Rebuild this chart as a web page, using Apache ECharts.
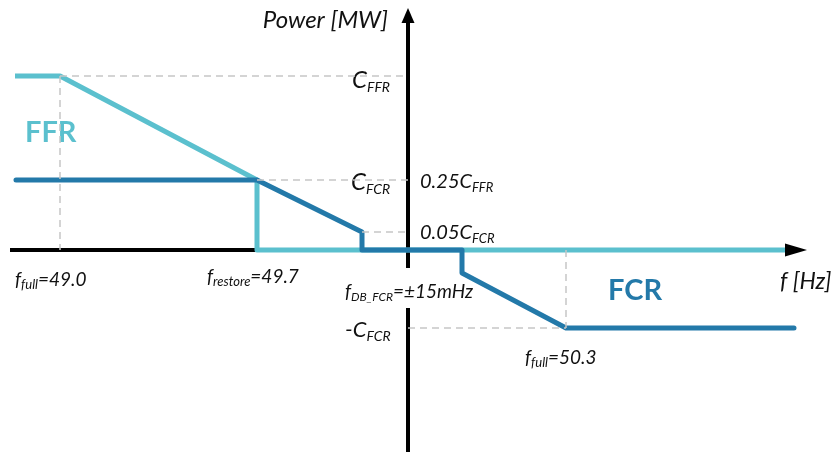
<!DOCTYPE html>
<html>
<head>
<meta charset="utf-8">
<script src="https://cdn.jsdelivr.net/npm/echarts@6/dist/echarts.min.js"></script>
<style>
  html, body { margin: 0; padding: 0; background: #fff; }
  #chart { width: 836px; height: 452px; }
</style>
</head>
<body>
<div id="chart"></div>
<script>
// Schematic frequency position (0 = nominal 50 Hz, where the power axis sits)
// and schematic power level for each break point of the two characteristics.
const ffrFreq  = [-39.3, -34.8, -15.1, -15.1, 38.0];
const ffrPower = [17.4, 17.4, 7.0, 0, 0];
const fcrFreq  = [-39.2, -15.1, -4.6, -4.6, 5.4, 5.4, 15.8, 38.6];
const fcrPower = [7.0, 7.0, 1.8, 0, 0, -2.3, -7.8, -7.8];

// Named power levels and frequencies
const cFFR = 17.4, cFCR = 7.0, dbStep = 1.8, cFCRneg = -7.8;
const fFullLow = -34.8, fRestore = -15.1, fDbLow = -4.6, fFullHigh = 15.8;

// Axis extents (schematic units); the power axis is broken around the dead-band label
const xMin = -40.8, xMax = 42.8, yMin = -20.2, yMax = 25;
const axisBreak = [-5.8, -1.8];

const FFR_COLOR = '#5BC0CE';
const FCR_COLOR = '#2379A9';
const GUIDE = '#C6C6C6';
const FONT = 'Lato';

const pairs = (xs, ys) => xs.map((x, i) => [x, ys[i]]);

// rich-text styles: main italic text + lowered subscript
function richSet(main, sub) {
  return {
    m: { fontFamily: FONT, fontStyle: 'italic', fontSize: main, lineHeight: main + 4, color: '#111', opacity: 1 },
    s: { fontFamily: FONT, fontStyle: 'italic', fontSize: sub, lineHeight: sub, verticalAlign: 'bottom', color: '#111', opacity: 1 }
  };
}

// text labels anchored to data positions
const labels = [
  { at: [-2.0, 23.0], text: '{m|Power [MW]}', align: 'right', rich: richSet(24, 14) },
  { at: [-7.0, cFFR - 0.4], text: '{m|C}{s|FFR}', align: 'left', rich: richSet(24, 14), bg: true, pad: [2, 14, 2, 14] },
  { at: [-7.3, cFCR - 0.2], text: '{m|C}{s|FCR}', align: 'left', rich: richSet(24, 14), bg: true, pad: [2, 14, 2, 16] },
  { at: [1.2, cFCR - 0.2], text: '{m|0.25C}{s|FFR}', align: 'left', rich: richSet(20, 13) },
  { at: [1.2, dbStep - 0.1], text: '{m|0.05C}{s|FCR}', align: 'left', rich: richSet(20, 13) },
  { at: [37.2, -3.2], text: '{m|f [Hz]}', align: 'left', rich: richSet(23, 14) },
  { at: [-39.3, -3.0], text: '{m|f}{s|full}{m|=49.0}', align: 'left', rich: richSet(19, 13) },
  { at: [-20.1, -2.7], text: '{m|f}{s|restore}{m|=49.7}', align: 'left', rich: richSet(19, 13) },
  { at: [-6.3, -4.2], text: '{m|f}{s|DB_FCR}{m|=±15mHz}', align: 'left', rich: richSet(19, 12) },
  { at: [-6.3, -8.0], text: '{m|-C}{s|FCR}', align: 'left', rich: richSet(22, 14) },
  { at: [11.7, -10.8], text: '{m|f}{s|full}{m|=50.3}', align: 'left', rich: richSet(19, 13) },
  { at: [-38.3, 11.7], text: 'FFR', align: 'left', bold: FFR_COLOR, size: 29 },
  { at: [20.0, -4.1], text: 'FCR', align: 'left', bold: FCR_COLOR, size: 29 }
];

const labelData = labels.map(l => ({
  value: l.at,
  label: l.bold ? {
    formatter: l.text, align: l.align, verticalAlign: 'middle', opacity: 1,
    fontFamily: FONT, fontWeight: 'bold', fontSize: l.size, color: l.bold
  } : {
    formatter: l.text, align: l.align, verticalAlign: 'middle', rich: l.rich, opacity: 1,
    backgroundColor: l.bg ? '#fff' : 'transparent', padding: l.pad || 0
  }
}));

const seg = (a, b) => [{ coord: a }, { coord: b }];
const axisLine = (data) => ({
  type: 'line', symbol: 'none', z: 1, silent: true,
  lineStyle: { color: '#000', width: 4 }, data
});

const option = {
  animation: false,
  backgroundColor: '#fff',
  grid: { left: 0, right: 0, top: 0, bottom: 0 },
  xAxis: { type: 'value', min: xMin, max: xMax, show: false },
  yAxis: { type: 'value', min: yMin, max: yMax, show: false },
  series: [
    // frequency axis, with the dashed guide lines to the named levels
    Object.assign(axisLine([[-39.8, 0], [38.8, 0]]), {
      markLine: {
        silent: true, symbol: 'none', animation: false,
        label: { show: false },
        lineStyle: { color: GUIDE, width: 1.5, type: [7, 5] },
        data: [
          seg([fFullLow, cFFR], [0, cFFR]),
          seg([fRestore, cFCR], [0, cFCR]),
          seg([fDbLow, dbStep], [0, dbStep]),
          seg([0, cFCRneg], [fFullHigh, cFCRneg]),
          seg([fFullLow, cFFR], [fFullLow, 0]),
          seg([fFullHigh, 0], [fFullHigh, cFCRneg])
        ]
      }
    }),
    // power axis (two pieces)
    axisLine([[0, axisBreak[1]], [0, 23.0]]),
    axisLine([[0, yMin], [0, axisBreak[0]]]),
    // axis arrow heads
    {
      type: 'scatter', z: 6, silent: true,
      itemStyle: { color: '#000', opacity: 1 },
      data: [
        { value: [38.8, 0], symbol: 'triangle', symbolSize: [13, 22], symbolRotate: -90 },
        { value: [0, 23.45], symbol: 'triangle', symbolSize: [13, 15], symbolRotate: 0 }
      ]
    },
    // FFR characteristic
    {
      name: 'FFR', type: 'line', symbol: 'none', z: 3, silent: true,
      lineStyle: { color: FFR_COLOR, width: 5, cap: 'butt', join: 'round' },
      data: pairs(ffrFreq, ffrPower)
    },
    // FCR characteristic
    {
      name: 'FCR', type: 'line', symbol: 'none', z: 4, silent: true,
      lineStyle: { color: FCR_COLOR, width: 5, cap: 'round', join: 'round' },
      data: pairs(fcrFreq, fcrPower)
    },
    // labels (above the axes and guides, below the characteristics)
    {
      type: 'scatter', z: 2, silent: true, symbolSize: 0,
      itemStyle: { opacity: 1 },
      label: { show: true, position: [0, 0], opacity: 1 },
      data: labelData
    }
  ]
};

const chart = echarts.init(document.getElementById('chart'), null, { renderer: 'canvas' });
chart.setOption(option);
</script>
</body>
</html>
